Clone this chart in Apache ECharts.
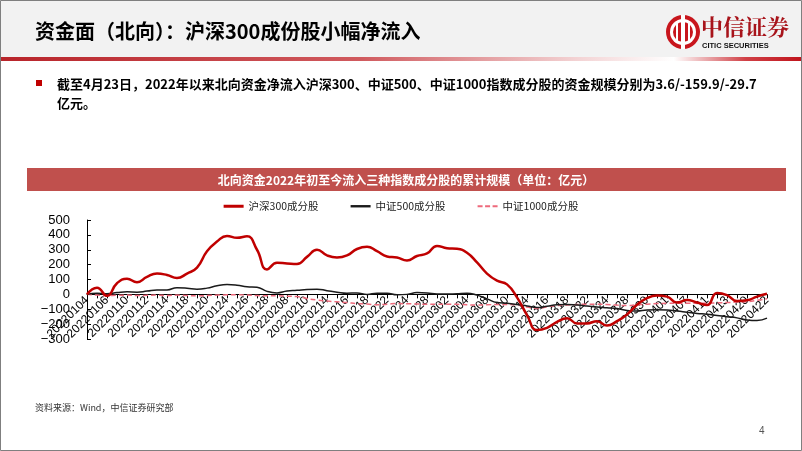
<!DOCTYPE html>
<html><head><meta charset="utf-8">
<script src="https://cdn.jsdelivr.net/npm/echarts@6/dist/echarts.min.js"></script>
<style>html,body{margin:0;padding:0;background:#fff}#c{width:802px;height:451px}</style>
</head><body><div id="c"></div>
<script>
// ---- data ----
const categories = [
 '20220104','20220105','20220106','20220107','20220110','20220111','20220112','20220113','20220114','20220117',
 '20220118','20220119','20220120','20220121','20220124','20220125','20220126','20220127','20220128',
 '20220207','20220208','20220209','20220210','20220211','20220214','20220215','20220216','20220217','20220218',
 '20220221','20220222','20220223','20220224','20220225','20220228',
 '20220301','20220302','20220303','20220304','20220307','20220308','20220309','20220310','20220311','20220314',
 '20220315','20220316','20220317','20220318','20220321','20220322','20220323','20220324','20220325','20220328',
 '20220329','20220330','20220331',
 '20220401','20220406','20220407','20220408','20220411','20220412','20220413','20220419','20220420','20220421','20220422'
];
const hs300 = [0,45,-10,75,105,82,118,140,130,110,140,180,290,355,393,380,390,300,168,
 212,208,205,252,300,262,248,262,305,320,290,255,248,228,258,275,
 326,310,306,280,215,140,92,67,-20,-139,-240,-225,-185,-160,-195,-195,-180,-210,-180,-135,-70,-25,-8,
 -15,-55,-38,-55,-72,10,-5,-45,-40,-15,3.6];
const zz500 = [0,8,5,12,17,15,22,30,30,45,42,35,42,58,66,62,52,48,20,
 10,22,27,33,35,25,15,8,10,0,8,8,-3,0,12,10,
 3,2,5,8,-5,-30,-55,-60,-68,-78,-88,-80,-70,-68,-72,-78,-85,-90,-95,-108,-112,-105,-104,
 -105,-112,-120,-128,-134,-142,-150,-158,-172,-176,-159.9];
const zz1000 = [0,-5,-8,-6,-5,-8,-6,-5,-8,-5,-8,-10,-8,-5,-3,-2,-5,-8,-10,
 -10,-12,-15,-28,-38,-45,-50,-55,-62,-65,-70,-66,-62,-63,-65,-66,
 -66,-66,-67,-70,-72,-70,-68,-68,-72,-85,-95,-85,-75,-72,-68,-66,-66,-68,-72,-75,-70,-66,-62,
 -60,-60,-60,-60,-60,-57,-55,-52,-50,-40,-29.7];
const seriesNames = ['沪深300成分股','中证500成分股','中证1000成分股'];
const yTicks = {min:-300, max:500, interval:100};

const GRID_TOP = 220, GRID_BOTTOM = 112, H = 451;
const plotH = H - GRID_TOP - GRID_BOTTOM;
const zeroOffset = -plotH * (0 - yTicks.min) / (yTicks.max - yTicks.min);

const chart = echarts.init(document.getElementById('c'), null, {renderer:'canvas'});
const CJK = '"Noto Sans CJK SC","Noto Sans",sans-serif';
chart.setOption({
  animation:false,
  backgroundColor:'#fff',
  graphic:[
    {type:'rect', shape:{x:0,y:0,width:802,height:57}, style:{fill:'#f2f2f2'}, z:0},
    {type:'rect', shape:{x:0,y:57,width:802,height:4}, style:{fill:new echarts.graphic.LinearGradient(0,0,1,0,[
      {offset:0,color:'#b8242a'},{offset:0.45,color:'#d05a5e'},{offset:0.72,color:'#f3d3d4'},{offset:0.84,color:'#ffffff'},{offset:0.93,color:'#d04046'},{offset:1,color:'#c0141c'}])}, z:1},
    {type:'text', left:35, top:21, style:{text:'资金面（北向）：沪深300成份股小幅净流入', font:'bold 20px '+CJK, fill:'#000'}, z:2},
    // logo
    {type:'circle', shape:{cx:683,cy:32,r:17}, style:{fill:'#c8161d'}, z:2},
    {type:'circle', shape:{cx:683,cy:32,r:13}, style:{fill:'#fff'}, z:3},
    {type:'circle', shape:{cx:683,cy:32,r:10}, style:{fill:'#c8161d'}, z:4},
    {type:'rect', shape:{x:681,y:15,width:4,height:34}, style:{fill:'#fff'}, z:5},
    {type:'rect', shape:{x:676,y:22,width:2,height:20}, style:{fill:'#fff'}, z:5},
    {type:'rect', shape:{x:688,y:22,width:2,height:20}, style:{fill:'#fff'}, z:5},
    {type:'text', left:701, top:16, style:{text:'中信证券', font:'bold 22px "Noto Serif CJK SC","Noto Sans CJK SC",serif', fill:'#a8141b'}, z:2},
    {type:'text', left:702, top:42, style:{text:'CITIC SECURITIES', font:'bold 7.5px "Liberation Sans Narrow","Liberation Sans",Arial', fill:'#111'}, z:2},
    // bullet
    {type:'rect', shape:{x:36,y:80,width:6,height:6}, style:{fill:'#c00000'}, z:2},
    {type:'text', left:57, top:75, style:{text:'截至4月23日，2022年以来北向资金净流入沪深300、中证500、中证1000指数成分股的资金规模分别为3.6/-159.9/-29.7\n亿元。', font:'bold 13px '+CJK, fill:'#000', lineHeight:19}, z:2},
    // chart title bar
    {type:'rect', shape:{x:27,y:168,width:759,height:23}, style:{fill:'#c0504d'}, z:2},
    {type:'text', x:406, y:180, style:{text:'北向资金2022年初至今流入三种指数成分股的累计规模（单位：亿元）', font:'bold 12px '+CJK, fill:'#fff', textAlign:'center', textVerticalAlign:'middle'}, z:3},
    // footer
    {type:'text', left:35, top:403, style:{text:'资料来源：Wind，中信证券研究部', font:'9px '+CJK, fill:'#333'}, z:2},
    {type:'text', left:759, top:426, style:{text:'4', font:'10px "Liberation Sans",Arial', fill:'#555'}, z:2},
    {type:'rect', shape:{x:0.5,y:0.5,width:801,height:450}, style:{fill:'none', stroke:'#7f7f7f', lineWidth:1}, z:10}
  ],
  legend:{
    top:196, left:'center', itemWidth:20, itemHeight:3, itemGap:32,
    textStyle:{fontFamily:CJK, fontSize:10.5, color:'#222'},
    data:[
      {name:seriesNames[0], icon:'path://M0,0H20V3H0Z', itemStyle:{color:'#c00000'}},
      {name:seriesNames[1], icon:'path://M0,0H20V2.4H0Z', itemStyle:{color:'#1a1a1a'}},
      {name:seriesNames[2], icon:'path://M0,0H5V2H0Z M7.5,0H12.5V2H7.5Z M15,0H20V2H15Z', itemStyle:{color:'#ee6a7c'}}
    ]
  },
  grid:{left:87, right:35, top:GRID_TOP, bottom:GRID_BOTTOM, containLabel:false},
  xAxis:{
    type:'category', data:categories, boundaryGap:false, offset:zeroOffset,
    axisLine:{onZero:false, lineStyle:{color:'#000', width:1}},
    axisTick:{show:true, interval:0, inside:false, length:4, lineStyle:{color:'#000'}},
    axisLabel:{interval:1, rotate:45, fontSize:12, fontFamily:'"Liberation Sans",Arial', color:'#000', margin:4},
    splitLine:{show:false}
  },
  yAxis:{
    type:'value', min:yTicks.min, max:yTicks.max, interval:yTicks.interval,
    axisLine:{show:true, lineStyle:{color:'#000', width:1}},
    axisTick:{show:true, inside:true, length:4, lineStyle:{color:'#000'}},
    axisLabel:{fontSize:13, fontFamily:'"Liberation Sans",Arial', color:'#000', margin:17,
      formatter:v => v<0 ? '\u2212'+Math.abs(v) : String(v)},
    splitLine:{show:false}
  },
  series:[
    {name:seriesNames[0], type:'line', data:hs300, smooth:true, symbol:'none', z:4,
      lineStyle:{color:'#c00000', width:2.5}, itemStyle:{color:'#c00000'}},
    {name:seriesNames[1], type:'line', data:zz500, smooth:true, symbol:'none', z:3,
      lineStyle:{color:'#1a1a1a', width:1.5}, itemStyle:{color:'#1a1a1a'}},
    {name:seriesNames[2], type:'line', data:zz1000, smooth:true, symbol:'none', z:2,
      lineStyle:{color:'#ee6a7c', width:1.5, type:[5,3]}, itemStyle:{color:'#ee6a7c'}}
  ]
});
</script></body></html>
